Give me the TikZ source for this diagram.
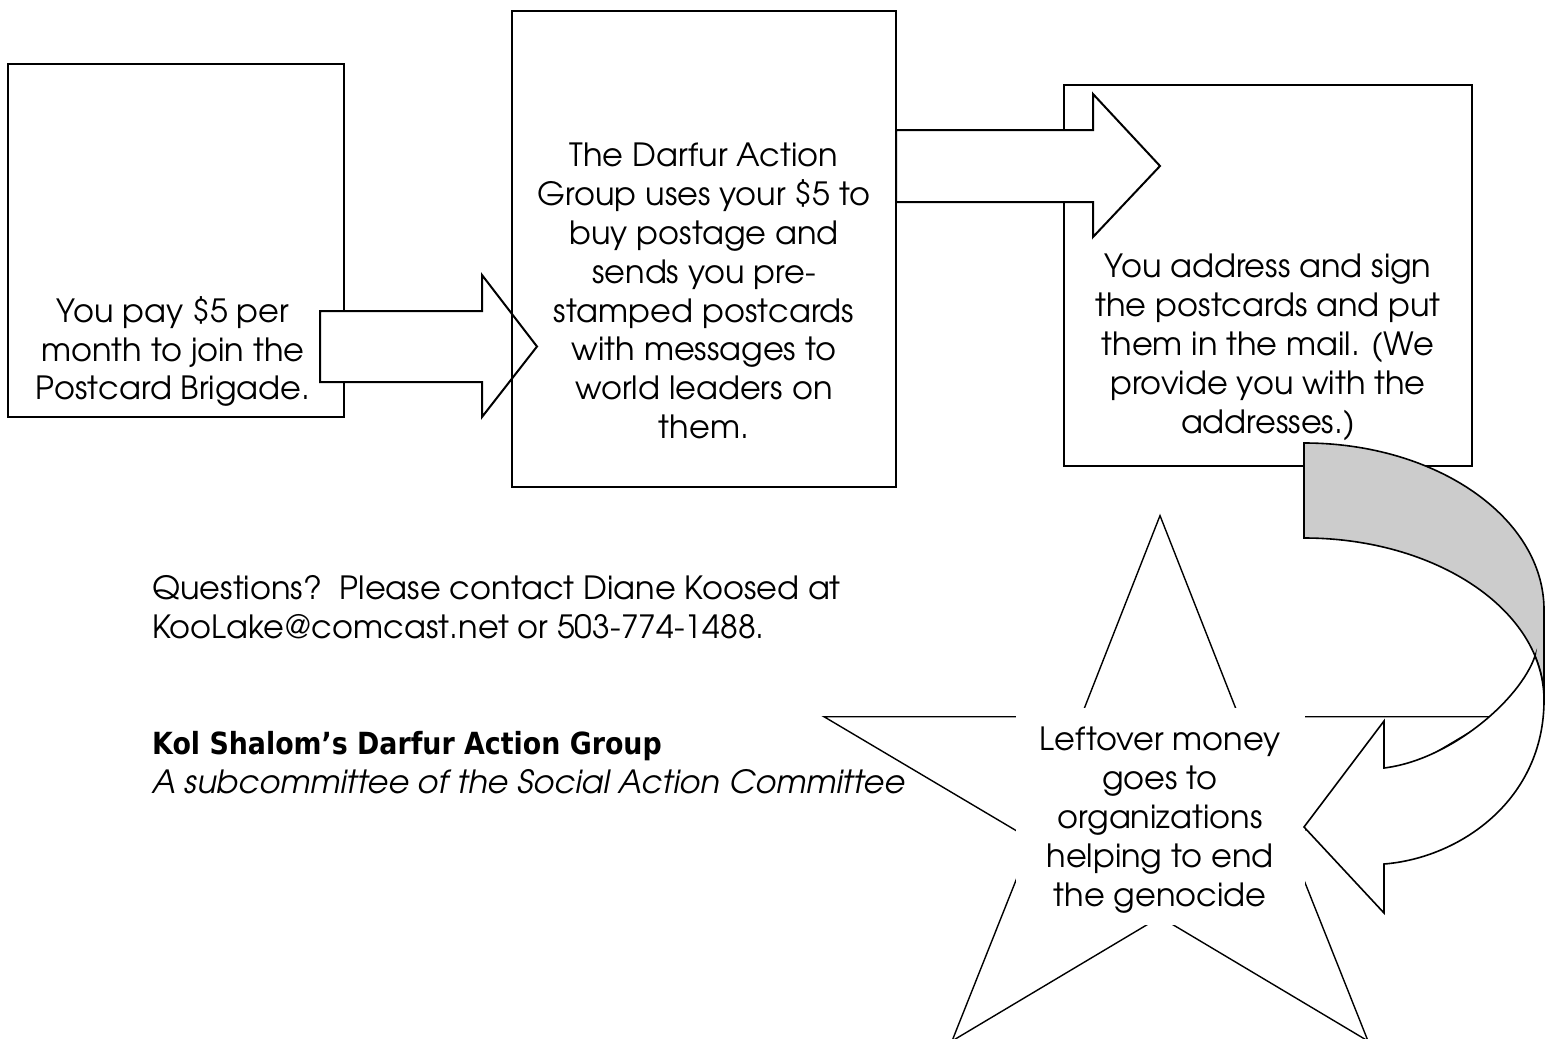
\documentclass[tikz,border=0pt]{standalone}
\usepackage{fontspec}
\setmainfont{texgyreadventor}[Extension=.otf, UprightFont=*-regular, BoldFont=*-bold, ItalicFont=*-italic, BoldItalicFont=*-bolditalic]
\newfontfamily\kolfont{DejaVu Sans}[FakeStretch=0.88]
\begin{document}
\begin{tikzpicture}[x=1pt,y=-1pt,
  boxstyle/.style={draw,line width=2pt,rectangle,inner sep=0pt},
  blockarrow/.style={draw,fill=white,line width=2pt,line join=miter},
  starline/.style={draw,line width=1.4pt,line join=miter},
  curvestyle/.style={draw,line width=1.6pt,line join=miter},
  bodytext/.style={font=\fontsize{32}{38.9}\selectfont,align=center,inner sep=0pt},
  lefttext/.style={font=\fontsize{32}{38.9}\selectfont,align=left,inner sep=0pt,anchor=west}]
\useasboundingbox (0,0) rectangle (1554,1038);

% box 1
\node[boxstyle,minimum width=336pt,minimum height=353pt] (box1) at (176,240.5) {};
\node[bodytext] (t1) at (173,351.5) {You pay \$5 per\\month to join the\\Postcard Brigade.};

% arrow 1
\draw[blockarrow] (320,311) -- (482,311) -- (482,275) -- (537,346.5) -- (482,417) -- (482,382) -- (320,382) -- cycle;

% box 2
\node[boxstyle,minimum width=384pt,minimum height=476pt] (box2) at (704,249) {};
\node[bodytext] (t2) at (704,291) {The Darfur Action\\Group uses your \$5 to\\buy postage and\\sends you pre-\\stamped postcards\\with messages to\\world leaders on\\them.};

% box 3
\node[boxstyle,minimum width=408pt,minimum height=381pt] (box3) at (1268,275.5) {};
\node[bodytext] (t3) at (1268,347) {You address and sign\\the postcards and put\\them in the mail. (We\\provide you with the\\addresses.)};

% arrow 2
\draw[blockarrow] (896,130) -- (1093,130) -- (1093,94) -- (1160,166) -- (1093,237) -- (1093,202) -- (896,202) -- cycle;

% contact text
\node[lefttext] (q) at (152,607.5) {Questions?\ \ Please contact Diane Koosed at\\KooLake@comcast.net or 503-774-1488.};
\node[inner sep=0pt,anchor=base west,font=\kolfont\bfseries\fontsize{30.5}{36}\selectfont] (kol) at (152,754) {Kol Shalom’s Darfur Action Group};
\node[inner sep=0pt,anchor=base west,font=\itshape\fontsize{32}{38.9}\selectfont] (sub) at (152,793) {A subcommittee of the Social Action Committee};

% star
\draw[starline] (1160,515.6) -- (1239,716.7) -- (1496,716.7) -- (1288,840) -- (1368,1041)
  -- (1160,917) -- (952,1041) -- (1032,840) -- (824,716.7) -- (1081,716.7) -- cycle;
\node[bodytext,fill=white,minimum width=289pt,minimum height=217pt,text depth=0pt] (t4) at (1160,816.5)
  {Leftover money\\goes to\\organizations\\helping to end\\the genocide};

% curved arrow: back part
\path[curvestyle,fill=black!20] (1304,443) arc[start angle=-90,end angle=0,x radius=240,y radius=167]
  -- (1544,700) arc[start angle=0,end angle=-90,x radius=240,y radius=162] -- cycle;
% curved arrow: front part
\path[curvestyle,fill=white] (1535,656) .. controls (1520,700) and (1450,760) .. (1384,768)
  -- (1384,721) -- (1304,827) -- (1384,913) -- (1384,864)
  .. controls (1460,858) and (1544,800) .. (1544,700)
  arc[start angle=0,end angle=-15.74,x radius=240,y radius=162] -- cycle;
\end{tikzpicture}
\end{document}
